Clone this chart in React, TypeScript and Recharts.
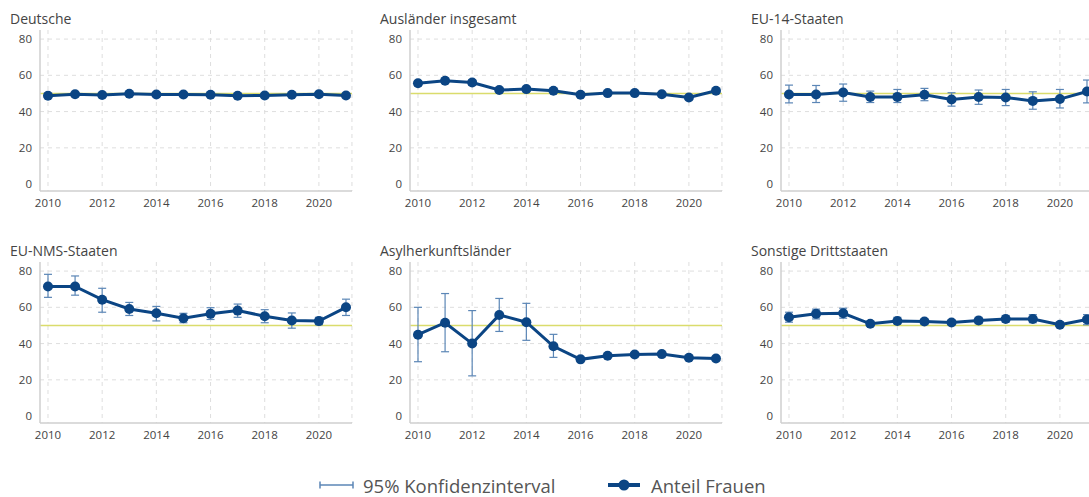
import React from 'react';
import { LineChart, Line, XAxis, YAxis, CartesianGrid, ReferenceLine, ErrorBar } from 'recharts';

const years = [2010, 2011, 2012, 2013, 2014, 2015, 2016, 2017, 2018, 2019, 2020, 2021];
const xTicks = [2010, 2012, 2014, 2016, 2018, 2020];
const yTicks = [0, 20, 40, 60, 80];
const parityLevel = 50;

const deutscheValues = [48.7, 49.6, 49.1, 49.8, 49.4, 49.4, 49.3, 48.7, 48.9, 49.3, 49.6, 48.9];
const deutscheLow = [48.2, 49.1, 48.6, 49.3, 48.9, 48.9, 48.8, 48.2, 48.4, 48.8, 49.1, 48.4];
const deutscheHigh = [49.2, 50.1, 49.6, 50.3, 49.9, 49.9, 49.8, 49.2, 49.4, 49.8, 50.1, 49.4];

const auslaenderValues = [55.6, 57.0, 56.0, 51.9, 52.4, 51.5, 49.3, 50.2, 50.2, 49.6, 47.8, 51.5];
const auslaenderLow = [54.2, 55.6, 54.5, 50.8, 51.3, 50.5, 48.4, 49.3, 49.3, 48.7, 46.8, 50.5];
const auslaenderHigh = [57.0, 58.4, 57.5, 53.0, 53.5, 52.5, 50.2, 51.1, 51.1, 50.5, 48.8, 52.5];

const eu14Values = [49.4, 49.4, 50.5, 48.0, 48.1, 49.3, 46.7, 48.0, 47.8, 45.9, 46.9, 51.1];
const eu14Low = [44.8, 45.0, 45.7, 45.0, 45.0, 46.0, 43.0, 44.0, 43.3, 41.3, 42.0, 44.8];
const eu14High = [54.6, 54.4, 55.2, 51.3, 52.2, 52.8, 50.4, 51.9, 52.2, 50.9, 52.2, 57.4];

const euNmsValues = [71.5, 71.5, 64.2, 59.1, 56.7, 54.0, 56.4, 58.2, 55.1, 52.7, 52.4, 60.0];
const euNmsLow = [65.5, 66.7, 57.3, 55.5, 52.5, 51.5, 53.3, 54.5, 51.5, 48.5, 50.4, 55.5];
const euNmsHigh = [78.2, 77.3, 70.5, 62.7, 60.5, 56.7, 59.8, 61.8, 58.7, 56.9, 54.5, 64.5];

const asylValues = [44.9, 51.5, 40.0, 55.8, 51.8, 38.5, 31.3, 33.3, 34.0, 34.2, 32.2, 31.8];
const asylLow = [30.0, 35.5, 22.2, 46.7, 41.8, 32.4, 30.5, 32.5, 33.2, 33.4, 31.4, 31.0];
const asylHigh = [60.0, 67.6, 58.2, 64.9, 62.2, 45.1, 32.1, 34.1, 34.8, 35.0, 33.0, 32.6];

const sonstigeValues = [54.5, 56.4, 56.7, 50.9, 52.5, 52.2, 51.6, 52.7, 53.6, 53.6, 50.4, 53.3];
const sonstigeLow = [51.8, 53.6, 54.0, 49.6, 50.9, 50.5, 50.4, 51.0, 51.8, 51.5, 49.6, 50.4];
const sonstigeHigh = [57.3, 59.0, 59.5, 52.2, 54.5, 53.6, 53.0, 54.5, 55.5, 56.0, 51.8, 56.0];

const panelTitles = [
  'Deutsche',
  'Ausländer insgesamt',
  'EU-14-Staaten',
  'EU-NMS-Staaten',
  'Asylherkunftsländer',
  'Sonstige Drittstaaten',
];

const legendCiLabel = '95% Konfidenzinterval';
const legendLineLabel = 'Anteil Frauen';

const panels = [
  { title: panelTitles[0], values: deutscheValues, low: deutscheLow, high: deutscheHigh },
  { title: panelTitles[1], values: auslaenderValues, low: auslaenderLow, high: auslaenderHigh },
  { title: panelTitles[2], values: eu14Values, low: eu14Low, high: eu14High },
  { title: panelTitles[3], values: euNmsValues, low: euNmsLow, high: euNmsHigh },
  { title: panelTitles[4], values: asylValues, low: asylLow, high: asylHigh },
  { title: panelTitles[5], values: sonstigeValues, low: sonstigeLow, high: sonstigeHigh },
];

const LINE_COLOR = '#0b4584';
const CI_COLOR = '#5b86b6';
const REF_COLOR = '#dadc6c';
const FONT = '"Open Sans", sans-serif';

const colLefts = [0, 370, 741];
const rowTops = [0, 232];

function Panel({ title, values, low, high, left, top }: any) {
  const data = years.map((year, i) => ({
    year,
    value: values[i],
    err: [values[i] - low[i], high[i] - values[i]],
  }));
  return (
    <div style={{ position: 'absolute', left, top, width: 372, height: 225 }}>
      <LineChart width={372} height={225} data={data} margin={{ top: 30, right: 20, bottom: 0, left: 0 }}>
        <CartesianGrid
          stroke="#dedede"
          strokeDasharray="4 4"
          horizontalValues={[20, 40, 60, 80]}
          verticalValues={[...xTicks, 2021.22]}
        />
        <XAxis
          dataKey="year"
          type="number"
          domain={[2009.705, 2021.222]}
          ticks={xTicks}
          interval={0}
          allowDataOverflow
          tickLine={false}
          tickSize={0}
          tickMargin={8}
          height={34}
          stroke="#cfcfcf"
          strokeWidth={1.5}
          tick={{ fill: '#444', fontSize: 11.5 }}
        />
        <YAxis
          type="number"
          domain={[-3.8, 85]}
          ticks={yTicks}
          interval={0}
          allowDataOverflow
          width={40}
          tickLine={false}
          tickSize={0}
          tickMargin={8}
          stroke="#cfcfcf"
          strokeWidth={1.5}
          tick={{ fill: '#444', fontSize: 11.5 }}
        />
        <ReferenceLine y={parityLevel} stroke={REF_COLOR} strokeWidth={1.6} ifOverflow="extendDomain" />
        <Line
          dataKey="value"
          stroke={LINE_COLOR}
          strokeWidth={3}
          dot={{ r: 5, fill: LINE_COLOR, stroke: LINE_COLOR, strokeWidth: 0 }}
          activeDot={false}
          isAnimationActive={false}
        >
          <ErrorBar dataKey="err" direction="y" width={4} stroke={CI_COLOR} strokeWidth={1.2} isAnimationActive={false} />
        </Line>
      </LineChart>
      <div
        style={{
          position: 'absolute',
          left: 10,
          top: 10,
          fontSize: 14,
          lineHeight: '18px',
          color: '#444',
          whiteSpace: 'nowrap',
        }}
      >
        {title}
      </div>
    </div>
  );
}

export default function App() {
  return (
    <div
      style={{
        position: 'absolute',
        left: 0,
        top: 0,
        width: 1089,
        height: 497,
        overflow: 'hidden',
        background: '#fff',
        fontFamily: FONT,
      }}
    >
      {panels.map((p, i) => (
        <Panel
          key={p.title}
          title={p.title}
          values={p.values}
          low={p.low}
          high={p.high}
          left={colLefts[i % 3]}
          top={rowTops[Math.floor(i / 3)]}
        />
      ))}
      <svg style={{ position: 'absolute', left: 317, top: 477 }} width={40} height={16}>
        <line x1={3} y1={8} x2={36} y2={8} stroke={CI_COLOR} strokeWidth={1.5} />
        <line x1={3} y1={4.5} x2={3} y2={11.5} stroke={CI_COLOR} strokeWidth={1.5} />
        <line x1={36} y1={4.5} x2={36} y2={11.5} stroke={CI_COLOR} strokeWidth={1.5} />
      </svg>
      <div
        style={{
          position: 'absolute',
          left: 363,
          top: 473,
          fontSize: 18.5,
          lineHeight: '26px',
          color: '#555',
          whiteSpace: 'nowrap',
        }}
      >
        {legendCiLabel}
      </div>
      <svg style={{ position: 'absolute', left: 604, top: 477 }} width={40} height={16}>
        <line x1={4} y1={8} x2={36} y2={8} stroke={LINE_COLOR} strokeWidth={4} />
        <circle cx={20} cy={8} r={5.5} fill={LINE_COLOR} />
      </svg>
      <div
        style={{
          position: 'absolute',
          left: 651,
          top: 473,
          fontSize: 18.5,
          lineHeight: '26px',
          color: '#555',
          whiteSpace: 'nowrap',
        }}
      >
        {legendLineLabel}
      </div>
    </div>
  );
}
